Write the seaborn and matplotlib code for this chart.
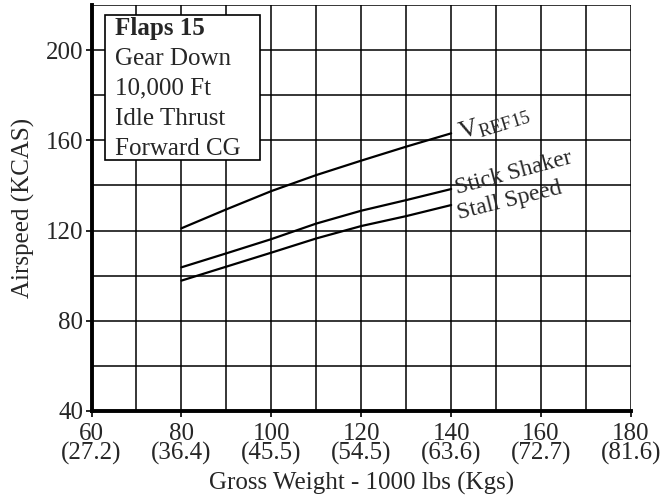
import pandas as pd
import matplotlib
matplotlib.use("Agg")
import matplotlib.pyplot as plt
import seaborn as sns
from matplotlib.patches import Rectangle

# значения (Flaps 15)
weight = [80, 90, 100, 110, 120, 130, 140]
vref15 = [121, 129.4, 137.5, 144.6, 151, 157.2, 163.1]
stick_shaker = [103.7, 109.9, 116.2, 123.1, 128.8, 133.5, 138.4]
stall_speed = [97.8, 104, 110.2, 116.5, 122, 126.4, 131.3]

x_ticks = [60, 80, 100, 120, 140, 160, 180]
x_kgs = ["27.2", "36.4", "45.5", "54.5", "63.6", "72.7", "81.6"]
y_ticks = [40, 80, 120, 160, 200]
box_lines = ["Flaps 15", "Gear Down", "10,000 Ft", "Idle Thrust", "Forward CG"]

df = pd.DataFrame({
    "weight": weight * 3,
    "speed": vref15 + stick_shaker + stall_speed,
    "curve": ["vref"] * 7 + ["shaker"] * 7 + ["stall"] * 7,
})

sns.set_style("white")
plt.rcParams["font.family"] = ["Liberation Serif", "DejaVu Serif"]
plt.rcParams["mathtext.fontset"] = "custom"
plt.rcParams["mathtext.rm"] = "Liberation Serif"

FS = 18

fig = plt.figure(figsize=(6.66, 4.96), dpi=100)
ax = fig.add_axes([0.1374, 0.1714, 0.81, 0.8185])

sns.lineplot(data=df, x="weight", y="speed", hue="curve", palette=["black"] * 3,
             linewidth=1.6, legend=False, ax=ax, zorder=3)

ax.set_xlim(60, 180)
ax.set_ylim(40, 220)
ax.set_xticks(range(60, 181, 10), minor=True)
ax.set_yticks(range(40, 221, 20), minor=True)
ax.set_xticks(x_ticks)
ax.set_xticklabels([f"{a}\n({b})" for a, b in zip(x_ticks, x_kgs)], linespacing=0.82)
ax.set_yticks(y_ticks)
ax.tick_params(which="major", direction="out", length=4, width=1.2, labelsize=FS,
               color="black", pad=2, left=True, bottom=True)
ax.tick_params(axis="x", which="major", pad=5)
ax.tick_params(which="minor", length=0)
ax.grid(which="both", color="black", linewidth=1.1)

for s in ["top", "right"]:
    ax.spines[s].set_visible(False)
for s in ["left", "bottom"]:
    ax.spines[s].set_linewidth(2.8)
    ax.spines[s].set_color("black")
    ax.spines[s].set_zorder(4)

ax.set_xlabel("Gross Weight - 1000 lbs (Kgs)", fontsize=FS, labelpad=5)
ax.set_ylabel("Airspeed (KCAS)", fontsize=FS, labelpad=8)

# подписи кривых
ax.text(149.5, 167.5, r"V$_{\mathrm{REF15}}$", fontsize=19, rotation=17,
        ha="center", va="center", zorder=5)
ax.text(153.8, 145.5, "Stick Shaker", fontsize=17, rotation=15,
        ha="center", va="center", zorder=5)
ax.text(153.0, 133.3, "Stall Speed", fontsize=17, rotation=14,
        ha="center", va="center", zorder=5)

# рамка с условиями
ax.add_patch(Rectangle((63, 151.3), 34.4, 64.2, facecolor="white", edgecolor="black",
                       linewidth=1.2, zorder=5))
y0 = 206.7
for i, t in enumerate(box_lines):
    ax.text(65.2, y0 - i * 13.25, t, fontsize=FS, va="baseline", ha="left",
            fontweight="bold" if i == 0 else "normal", zorder=6)

fig.savefig("out.png", dpi=100)
